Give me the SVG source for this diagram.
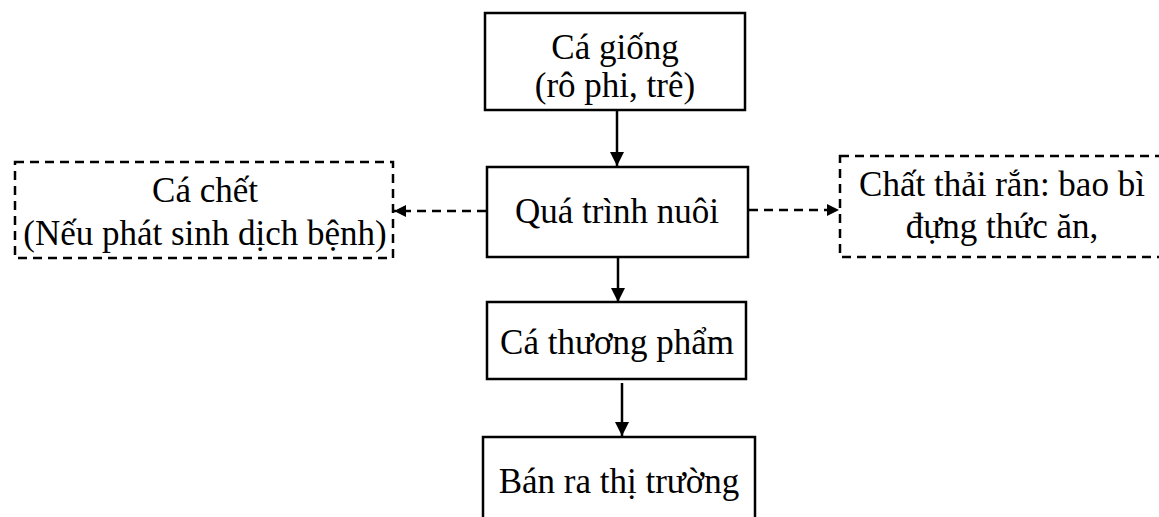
<svg xmlns="http://www.w3.org/2000/svg" width="1159" height="517" viewBox="0 0 1159 517">
<style>
.box{fill:#fff;stroke:#000;stroke-width:2.5}
.dbox{fill:#fff;stroke:#000;stroke-width:2.5;stroke-dasharray:9 6}
.t{font-family:"Liberation Serif","Times New Roman",serif;font-size:35px;fill:#000;text-anchor:middle}
.ln{stroke:#000;stroke-width:2.5;fill:none}
.dl{stroke:#000;stroke-width:2.5;fill:none;stroke-dasharray:9 6}
</style>
<defs>
<marker id="ah" markerWidth="12" markerHeight="12" refX="12" refY="6" orient="auto" markerUnits="userSpaceOnUse">
<path d="M0,0 L12,6 L0,12 Z" fill="#000"/>
</marker>
<marker id="av" markerWidth="14" markerHeight="14" refX="14" refY="7" orient="auto" markerUnits="userSpaceOnUse">
<path d="M0,0 L14,7 L0,14 Z" fill="#000"/>
</marker>
</defs>
<g id="connectors">
<line class="ln" x1="617" y1="111" x2="617" y2="166" marker-end="url(#av)"/>
<line class="ln" x1="618" y1="258" x2="618" y2="302" marker-end="url(#av)"/>
<line class="ln" x1="622" y1="383" x2="622" y2="436" marker-end="url(#av)"/>
<line class="dl" x1="486" y1="211" x2="394" y2="211" marker-end="url(#ah)"/>
<line class="dl" x1="749" y1="210" x2="839" y2="210" marker-end="url(#ah)"/>
</g>
<g id="n1">
<rect class="box" x="485" y="13" width="260" height="97"/>
<text class="t" x="615" y="59">Cá giống</text>
<text class="t" x="615" y="97">(rô phi, trê)</text>
</g>
<g id="n2">
<rect class="box" x="487" y="167" width="261" height="90"/>
<text class="t" x="617" y="223">Quá trình nuôi</text>
</g>
<g id="n3">
<rect class="dbox" x="15" y="162" width="378" height="96"/>
<text class="t" x="205" y="202">Cá chết</text>
<text class="t" x="205" y="245">(Nếu phát sinh dịch bệnh)</text>
</g>
<g id="n4">
<rect class="dbox" x="840" y="156" width="330" height="101"/>
<text class="t" x="1002" y="196">Chất thải rắn: bao bì</text>
<text class="t" x="1002" y="238">đựng thức ăn,</text>
</g>
<g id="n5">
<rect class="box" x="487" y="302" width="259" height="77"/>
<text class="t" x="617" y="354">Cá thương phẩm</text>
</g>
<g id="n6">
<rect class="box" x="483" y="437" width="272" height="100"/>
<text class="t" x="619" y="493">Bán ra thị trường</text>
</g>
</svg>
